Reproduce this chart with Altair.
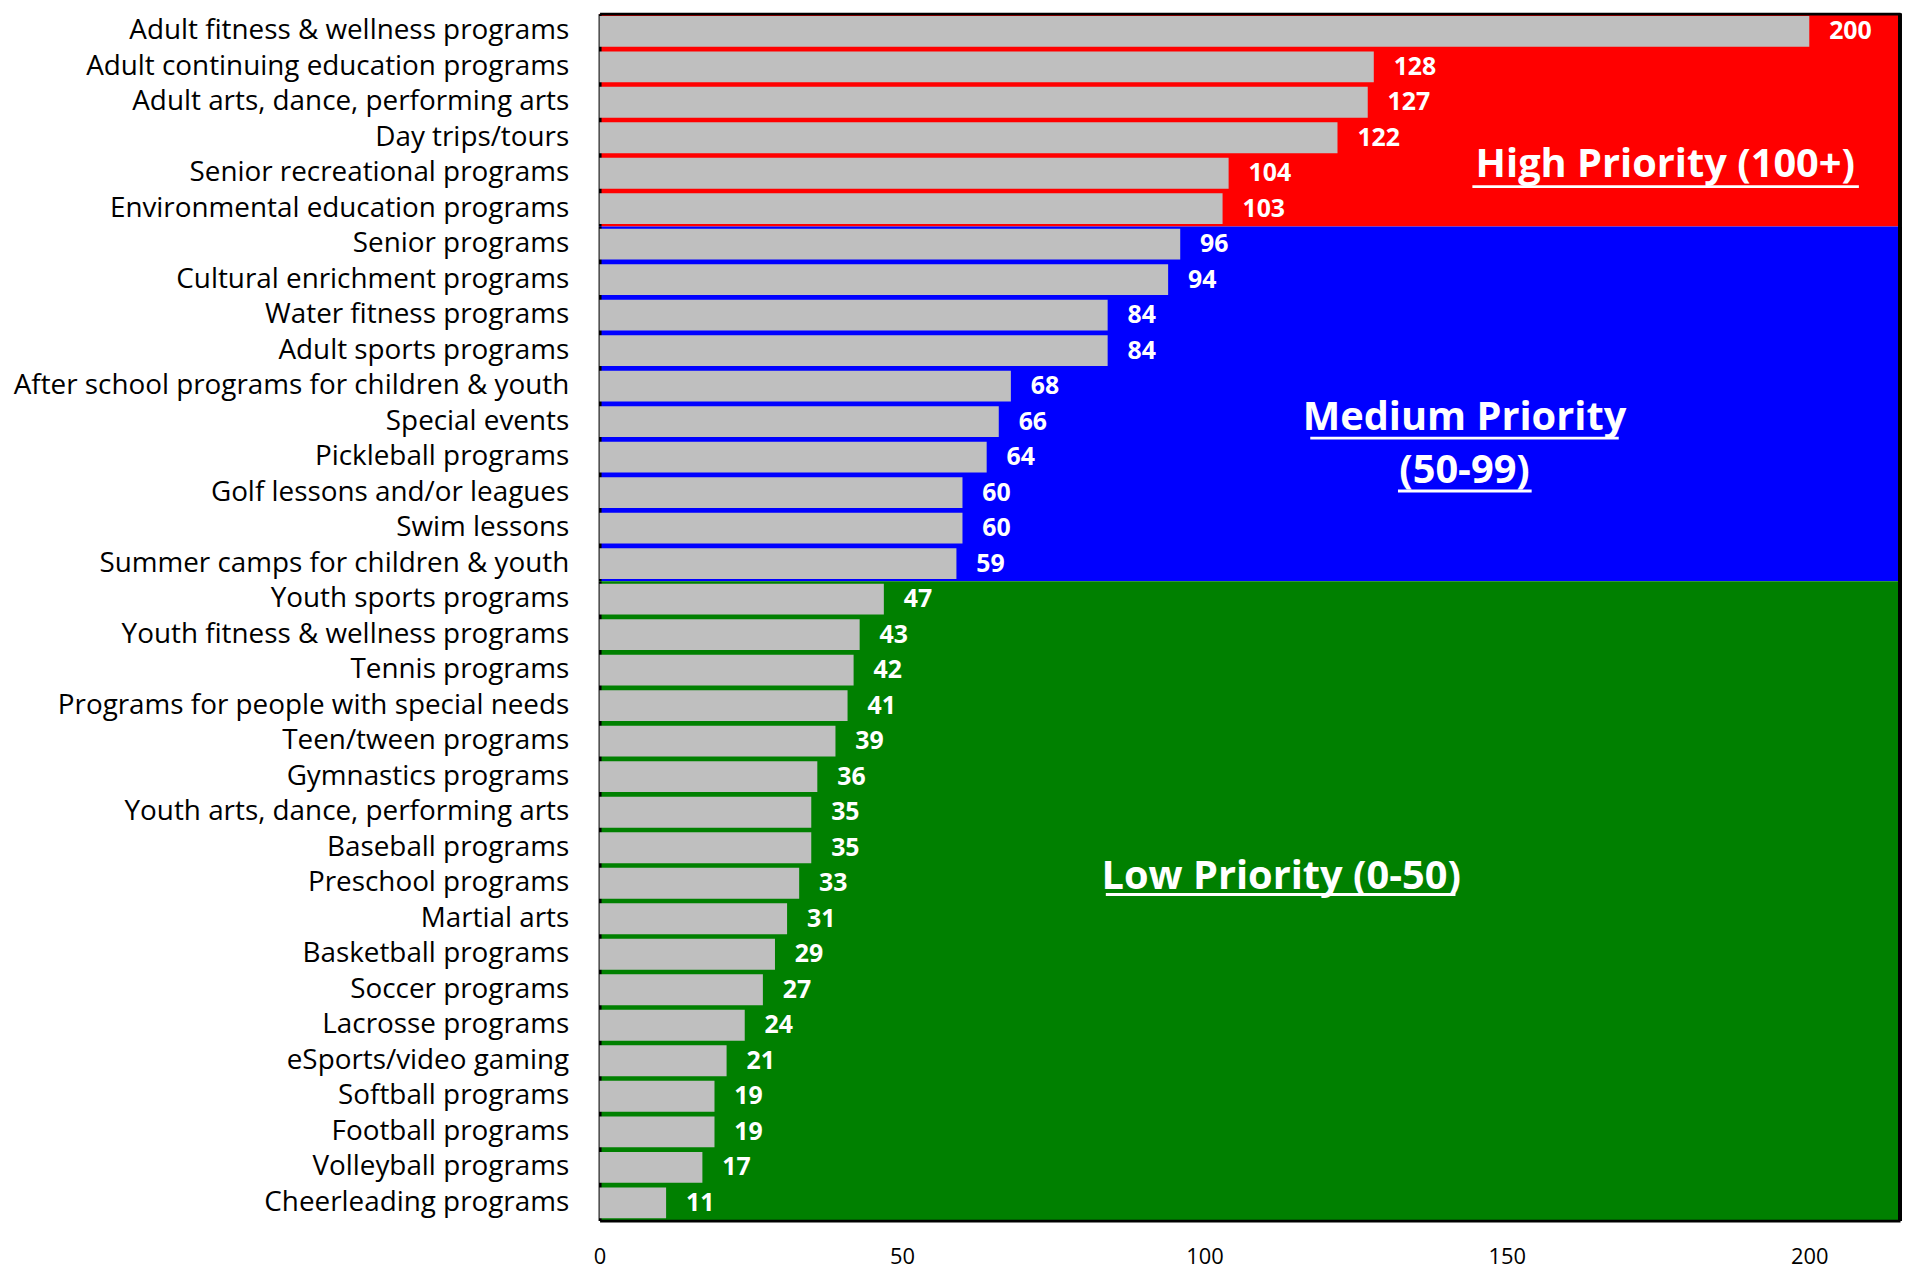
import altair as alt
import pandas as pd

# ---- data ----
high_programs = [
    "Adult fitness & wellness programs",
    "Adult continuing education programs",
    "Adult arts, dance, performing arts",
    "Day trips/tours",
    "Senior recreational programs",
    "Environmental education programs",
]
high_values = [200, 128, 127, 122, 104, 103]

medium_programs = [
    "Senior programs",
    "Cultural enrichment programs",
    "Water fitness programs",
    "Adult sports programs",
    "After school programs for children & youth",
    "Special events",
    "Pickleball programs",
    "Golf lessons and/or leagues",
    "Swim lessons",
    "Summer camps for children & youth",
]
medium_values = [96, 94, 84, 84, 68, 66, 64, 60, 60, 59]

low_programs = [
    "Youth sports programs",
    "Youth fitness & wellness programs",
    "Tennis programs",
    "Programs for people with special needs",
    "Teen/tween programs",
    "Gymnastics programs",
    "Youth arts, dance, performing arts",
    "Baseball programs",
    "Preschool programs",
    "Martial arts",
    "Basketball programs",
    "Soccer programs",
    "Lacrosse programs",
    "eSports/video gaming",
    "Softball programs",
    "Football programs",
    "Volleyball programs",
    "Cheerleading programs",
]
low_values = [47, 43, 42, 41, 39, 36, 35, 35, 33, 31, 29, 27, 24, 21, 19, 19, 17, 11]

x_ticks = [0, 50, 100, 150, 200]
x_max = 215

# priority annotations: text, row it sits on, centre x, underline start/end (data units)
ann_text = ["High Priority (100+)", "Medium Priority", "(50-99)", "Low Priority (0-50)"]
ann_row = ["Senior recreational programs", "Special events", "Pickleball programs", "Preschool programs"]
ann_x = [176.2, 143.0, 143.0, 112.7]
ann_u1 = [144.3, 117.5, 132.0, 83.7]
ann_u2 = [208.2, 168.5, 154.1, 141.5]

# ---- style ----
FONT = "Open Sans"
W = 1308
BAR = "#BFBFBF"

ann_df = pd.DataFrame({"text": ann_text, "program": ann_row, "x": ann_x, "u1": ann_u1, "u2": ann_u2})
ann_dy = {"High Priority (100+)": (3.5, 13.5), "Medium Priority": (8.3, 16.6),
          "(50-99)": (26, 34.2), "Low Priority (0-50)": (5.4, 11.4)}


def panel(programs, values, fill, height, xaxis, anns):
    df = pd.DataFrame({"program": programs, "value": values})
    xs = alt.Scale(domain=[0, x_max], nice=False, zero=True)
    ys = alt.Scale(paddingInner=0.13, paddingOuter=0.065)
    yaxis = alt.Axis(title=None, ticks=False, grid=False, labelFont=FONT,
                     labelFontSize=28, labelColor="black", labelPadding=31,
                     labelLimit=1000, domainColor="black", domainWidth=3)
    x_enc = alt.X("value:Q", scale=xs, axis=xaxis)
    y_enc = alt.Y("program:N", sort=programs, scale=ys, axis=yaxis)

    bars = alt.Chart(df).mark_bar(color=BAR).encode(x=x_enc, y=y_enc)
    vals = alt.Chart(df).mark_text(align="left", baseline="middle", dx=20, font=FONT,
                                   fontWeight="bold", fontSize=25, color="white").encode(
        x=x_enc, y=y_enc, text="value:Q")
    frame = alt.Chart(df).mark_rule(color="black", strokeWidth=3).encode(
        x=alt.value(W), y=alt.value(0), y2=alt.value(height))
    layers = [bars, vals, frame]
    for t in anns:
        dy, uoff = ann_dy[t]
        sub = ann_df[ann_df["text"] == t]
        txt = alt.Chart(sub).mark_text(align="center", baseline="alphabetic", dy=dy, font=FONT,
                                       fontWeight="bold", fontSize=40, color="white").encode(
            x=alt.X("x:Q", scale=xs, axis=xaxis), y=y_enc, text="text:N")
        ul = alt.Chart(sub).mark_rule(color="white", strokeWidth=3, yOffset=uoff).encode(
            x=alt.X("u1:Q", scale=xs, axis=xaxis), x2="u2:Q", y=y_enc)
        layers += [txt, ul]
    return alt.layer(*layers).properties(
        width=W, height=height, view=alt.ViewBackground(fill=fill, strokeWidth=0))


top_axis = alt.Axis(orient="top", title=None, labels=False, ticks=False, grid=False,
                    domainColor="black", domainWidth=3)
bottom_axis = alt.Axis(orient="bottom", title=None, ticks=False, grid=False, values=x_ticks,
                       labelFont=FONT, labelFontSize=22, labelColor="black", labelPadding=26,
                       labelFlush=False, domainColor="black", domainWidth=3)

p_high = panel(high_programs, high_values, "#FF0000", 214, top_axis, ["High Priority (100+)"])
p_med = panel(medium_programs, medium_values, "#0000FF", 357, None, ["Medium Priority", "(50-99)"])
p_low = panel(low_programs, low_values, "#008000", 643, bottom_axis, ["Low Priority (0-50)"])

chart = alt.vconcat(p_high, p_med, p_low, spacing=0, bounds="flush").resolve_scale(
    y="independent"
).properties(
    padding={"left": 5, "top": 0, "right": 0, "bottom": 0}
).configure_view(strokeWidth=0).configure(background="white")

chart.save("out.html", embed_options={"renderer": "svg", "actions": False})
